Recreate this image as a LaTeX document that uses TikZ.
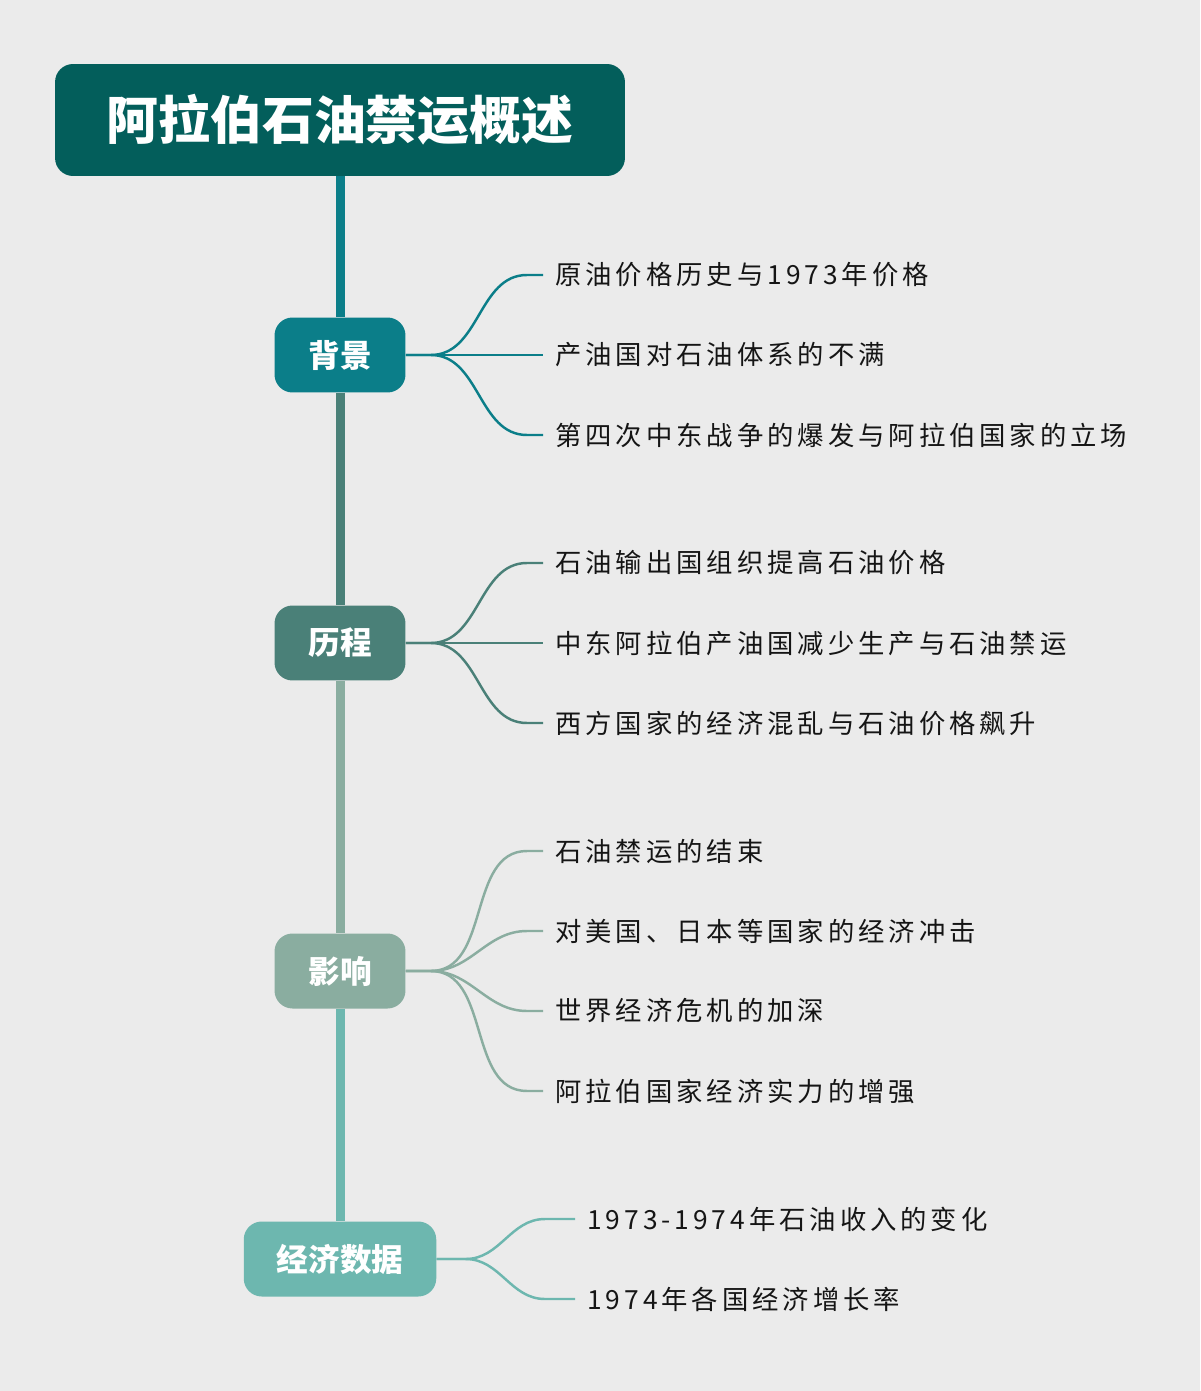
\documentclass[tikz,border=0pt]{standalone}
\usepackage{fontspec}
\newfontfamily\cjk{Noto Sans CJK SC}
\newfontfamily\cjkleaf[LetterSpace=15]{Noto Sans CJK SC}
\definecolor{bgc}{HTML}{EBEBEB}
\definecolor{titlec}{HTML}{035E5B}
\definecolor{bjc}{HTML}{0B7E89}
\definecolor{lcc}{HTML}{4A8078}
\definecolor{yxc}{HTML}{8AADA0}
\definecolor{sjc}{HTML}{6DB7AF}
\definecolor{leaftext}{HTML}{151515}
\tikzset{
  titlebox/.style={fill=titlec,rounded corners=0.36cm,minimum width=11.4cm,minimum height=2.24cm,
    text=white,font=\cjk\bfseries\fontsize{29.5}{32}\selectfont},
  branch/.style={fill=#1,rounded corners=0.36cm,minimum width=2.62cm,minimum height=1.5cm,inner xsep=0.66cm,
    text=white,font=\cjk\bfseries\fontsize{18}{20}\selectfont},
  leaf/.style={anchor=west,inner xsep=0.24cm,text=leaftext,font=\cjkleaf\fontsize{15}{17}\selectfont},
  trunk/.style={line width=0.18cm,#1},
  twig/.style={line width=1.4pt,#1}
}
\begin{document}
\begin{tikzpicture}[x=0.02cm,y=-0.02cm]
  \fill[bgc] (0,0) rectangle (1200,1391);
  \useasboundingbox (0,0) rectangle (1200,1391);
  % title and main branches
  \node[titlebox] (T) at (340,120) {阿拉伯石油禁运概述};
  \node[branch=bjc] (bj) at (340,355) {背景};
  \node[branch=lcc] (lc) at (340,643) {历程};
  \node[branch=yxc] (yx) at (340,971) {影响};
  \node[branch=sjc] (sj) at (340,1259) {经济数据};
  \draw[trunk=bjc] (T.south) -- (bj.north);
  \draw[trunk=lcc] (bj.south) -- (lc.north);
  \draw[trunk=yxc] (lc.south) -- (yx.north);
  \draw[trunk=sjc] (yx.south) -- (sj.north);
  % leaves
  \foreach \t/\y [count=\i] in {原油价格历史与1973年价格/275,产油国对石油体系的不满/355,第四次中东战争的爆发与阿拉伯国家的立场/435}{
    \node[leaf] (bj\i) at (543,\y) {\t};
    \draw[twig=bjc] (bj.east) -- ++(25,0) to[out=0,in=180] ([xshift=-0.32cm]bj\i.west) -- (bj\i.west);
  }
  \foreach \t/\y [count=\i] in {石油输出国组织提高石油价格/563,中东阿拉伯产油国减少生产与石油禁运/643,西方国家的经济混乱与石油价格飙升/723}{
    \node[leaf] (lc\i) at (543,\y) {\t};
    \draw[twig=lcc] (lc.east) -- ++(25,0) to[out=0,in=180] ([xshift=-0.32cm]lc\i.west) -- (lc\i.west);
  }
  \foreach \t/\y [count=\i] in {石油禁运的结束/851,对美国、日本等国家的经济冲击/931,世界经济危机的加深/1011,阿拉伯国家经济实力的增强/1091}{
    \node[leaf] (yx\i) at (543,\y) {\t};
    \draw[twig=yxc] (yx.east) -- ++(25,0) to[out=0,in=180] ([xshift=-0.32cm]yx\i.west) -- (yx\i.west);
  }
  \foreach \t/\y [count=\i] in {1973-1974年石油收入的变化/1219,1974年各国经济增长率/1299}{
    \node[leaf] (sj\i) at (575,\y) {\t};
    \draw[twig=sjc] (sj.east) -- ++(29,0) to[out=0,in=180] ([xshift=-0.6cm]sj\i.west) -- (sj\i.west);
  }
\end{tikzpicture}
\end{document}
